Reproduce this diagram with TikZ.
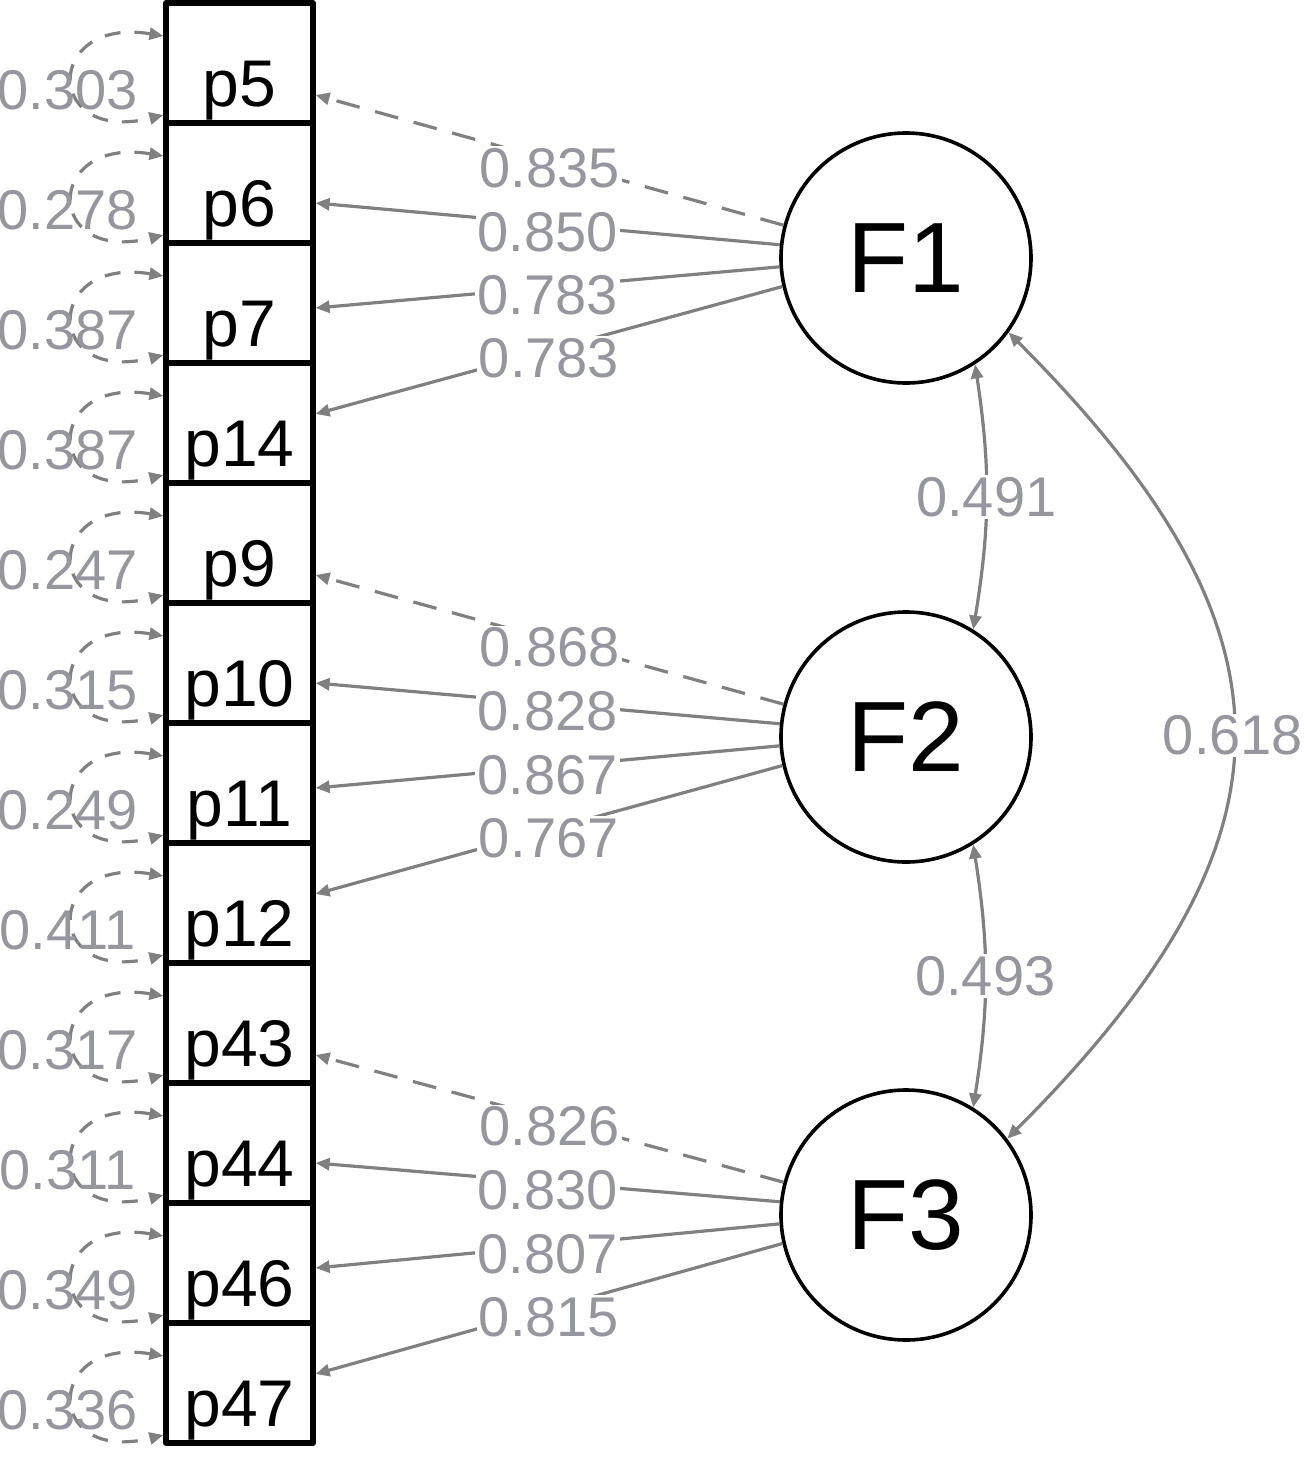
\documentclass[tikz,border=0pt]{standalone}
\usepackage{fontspec}
\setmainfont{Liberation Sans}
\usepackage{xcolor}
\usetikzlibrary{arrows.meta,calc,positioning}
\definecolor{semline}{RGB}{128,128,128}
\definecolor{semtext}{RGB}{150,150,158}
\tikzset{
  every picture/.append style={line join=round},
  sem item/.style={draw=black,line width=2.6pt,minimum width=73.5pt,minimum height=60pt,inner sep=0pt,text height=43pt,text depth=0pt,font=\fontsize{33}{33}\selectfont},
  sem factor/.style={circle,draw=black,line width=1.8pt,minimum size=125pt,inner sep=0pt,font=\fontsize{50}{50}\selectfont},
  sem coef/.style={text=semtext,inner sep=1pt,font=\fontsize{28}{28}\selectfont},
  sem coefbox/.style={sem coef,fill=white},
  sem load/.style={draw=semline,line width=1.6pt,-{Triangle[length=7pt,width=6pt]}},
  sem fixed/.style={sem load,dash pattern=on 12pt off 8pt},
  sem resid/.style={draw=semline,line width=1.6pt,dash pattern=on 8pt off 7pt,{Triangle[length=7pt,width=6pt]}-{Triangle[length=7pt,width=6pt]}},
  sem cov/.style={draw=semline,line width=1.6pt,{Triangle[length=7pt,width=6pt]}-{Triangle[length=7pt,width=6pt]}}
}

\begin{document}
\begin{tikzpicture}[x=0.5pt,y=-0.5pt]
  \useasboundingbox (0,0) rectangle (1304,1473);
  % observed items
  \foreach \name [count=\i from 0] in {p5,p6,p7,p14,p9,p10,p11,p12,p43,p44,p46,p47}
    \node[sem item] (\name) at (239.5,{63+120*\i}) {\name};
  % latent factors
  \node[sem factor] (F1) at (906,258) {F1};
  \node[sem factor] (F2) at (906,737) {F2};
  \node[sem factor] (F3) at (906,1215) {F3};
  % loadings
  \foreach \fac/\ia/\ib/\ic/\id/\ca/\cb/\cc/\cd in {F1/p5/p6/p7/p14/0.835/0.850/0.783/0.783,
      F2/p9/p10/p11/p12/0.868/0.828/0.867/0.767, F3/p43/p44/p46/p47/0.826/0.830/0.807/0.815} {
    \draw[sem fixed] (\fac.165) -- node[sem coefbox,yshift=-4pt] {\ca} ($(\ia.east)+(0,32)$);
    \draw[sem load] (\fac.174) -- node[sem coefbox,yshift=-4pt] {\cb} ($(\ib.east)+(0,20)$);
    \draw[sem load] (\fac.184) -- node[sem coefbox,yshift=-4pt] {\cc} ($(\ic.east)+(0,5)$);
    \draw[sem load] (\fac.193) -- node[sem coefbox,yshift=-4pt] {\cd} ($(\id.east)+(0,-9)$);
  }
  % residual variances
  \foreach \name/\val in {p5/0.303,p6/0.278,p7/0.387,p14/0.387,p9/0.247,p10/0.315,
      p11/0.249,p12/0.411,p43/0.317,p44/0.311,p46/0.349,p47/0.336} {
    \draw[sem resid] ($(\name.west)+(0,-27)$) .. controls +(-120,-20) and +(-120,30) .. ($(\name.west)+(0,52)$);
    \node[sem coef] (r\name) at ($(\name.west)+(-96,27)$) {\val};
  }
  % factor covariances
  \draw[sem cov] (F1.-57) to[bend left=9] node[sem coefbox] (c12) {0.491} (F2.58);
  \draw[sem cov] (F2.-58) to[bend left=9] node[sem coefbox] (c23) {0.493} (F3.58);
  \draw[sem cov] (F1.-36) to[out=-45,in=45,looseness=1.35] node[sem coefbox] (c13) {0.618} (F3.37);
\end{tikzpicture}
\end{document}
